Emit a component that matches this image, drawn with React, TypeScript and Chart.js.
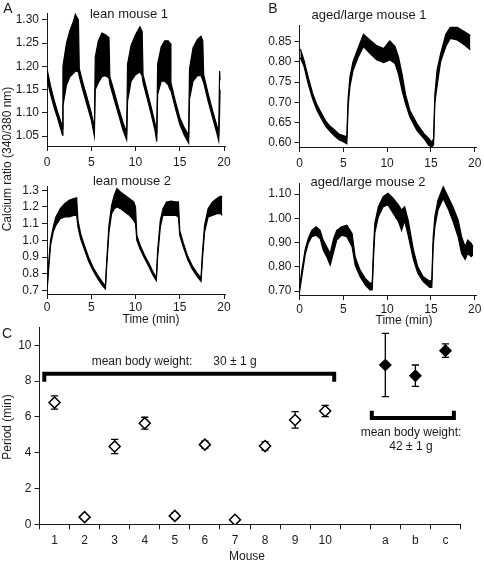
import React, { useEffect, useRef } from "react";
import { Chart, registerables } from "chart.js";

Chart.register(...registerables);

// ---------- Panel A: lean mouse 1 (envelope of the calcium trace) ----------
const leanMouse1Time = [0, 0.4, 0.8, 1.2, 1.6, 1.75, 1.8, 2.2, 2.6, 3.0, 3.2, 3.55, 3.65, 4.0, 4.5, 5.0, 5.35, 5.45, 5.8, 6.2, 6.6, 7.0, 7.1, 7.6, 8.1, 8.6, 9.0, 9.1, 9.5, 10.0, 10.5, 10.75, 10.85, 11.3, 11.8, 12.2, 12.4, 12.5, 12.9, 13.3, 13.7, 13.9, 14.0, 14.5, 15.0, 15.5, 16.0, 16.1, 16.5, 17.0, 17.4, 17.6, 17.7, 18.2, 18.7, 19.2, 19.4, 19.5, 19.55];
const leanMouse1Low = [1.172, 1.14, 1.112, 1.088, 1.062, 1.052, 1.115, 1.16, 1.178, 1.185, 1.19, 1.188, 1.178, 1.152, 1.118, 1.085, 1.05, 1.15, 1.165, 1.178, 1.18, 1.175, 1.162, 1.128, 1.095, 1.062, 1.042, 1.125, 1.168, 1.182, 1.188, 1.18, 1.165, 1.132, 1.095, 1.062, 1.038, 1.14, 1.168, 1.168, 1.16, 1.15, 1.148, 1.11, 1.075, 1.052, 1.035, 1.13, 1.168, 1.18, 1.18, 1.17, 1.165, 1.125, 1.09, 1.055, 1.04, 1.1, 1.15];
const leanMouse1High = [1.195, 1.158, 1.128, 1.102, 1.078, 1.066, 1.2, 1.25, 1.278, 1.298, 1.312, 1.3, 1.195, 1.168, 1.135, 1.1, 1.068, 1.22, 1.255, 1.272, 1.268, 1.262, 1.178, 1.145, 1.11, 1.078, 1.058, 1.205, 1.245, 1.268, 1.285, 1.275, 1.182, 1.148, 1.11, 1.078, 1.055, 1.205, 1.242, 1.255, 1.255, 1.25, 1.165, 1.125, 1.09, 1.068, 1.052, 1.195, 1.24, 1.258, 1.265, 1.255, 1.182, 1.142, 1.105, 1.072, 1.058, 1.19, 1.17];
const leanMouse1Ticks = [1.05, 1.1, 1.15, 1.2, 1.25, 1.3];

// ---------- Panel A: lean mouse 2 ----------
const leanMouse2Time = [0, 0.2, 0.4, 0.7, 1.0, 1.5, 2.0, 2.5, 3.0, 3.35, 3.5, 3.8, 4.2, 4.7, 5.2, 5.7, 6.2, 6.6, 6.75, 7.0, 7.3, 7.6, 7.9, 8.3, 8.8, 9.3, 9.8, 10.0, 10.15, 10.5, 11.0, 11.5, 12.0, 12.35, 12.5, 12.8, 13.1, 13.5, 14.0, 14.5, 14.85, 15.0, 15.4, 15.9, 16.4, 16.9, 17.4, 17.55, 17.8, 18.2, 18.7, 19.2, 19.6, 19.8];
const leanMouse2Low = [0.69, 0.84, 0.97, 1.05, 1.09, 1.13, 1.14, 1.14, 1.15, 1.15, 1.08, 1.01, 0.95, 0.875, 0.82, 0.775, 0.735, 0.71, 0.85, 1.05, 1.16, 1.19, 1.2, 1.19, 1.17, 1.15, 1.12, 1.1, 1.0, 0.95, 0.895, 0.845, 0.79, 0.76, 0.9, 1.08, 1.15, 1.15, 1.15, 1.15, 1.14, 1.03, 0.96, 0.885, 0.83, 0.79, 0.755, 0.88, 1.05, 1.14, 1.15, 1.16, 1.16, 1.15];
const leanMouse2High = [0.71, 0.87, 1.0, 1.08, 1.14, 1.19, 1.22, 1.24, 1.25, 1.255, 1.12, 1.04, 0.975, 0.9, 0.84, 0.795, 0.755, 0.728, 0.88, 1.09, 1.21, 1.27, 1.31, 1.29, 1.27, 1.25, 1.23, 1.2, 1.03, 0.975, 0.915, 0.865, 0.81, 0.778, 0.94, 1.12, 1.19, 1.23, 1.235, 1.23, 1.23, 1.06, 0.985, 0.905, 0.85, 0.81, 0.775, 0.92, 1.09, 1.19, 1.23, 1.25, 1.265, 1.26];
const leanMouse2Ticks = [0.7, 0.8, 0.9, 1.0, 1.1, 1.2, 1.3];

// ---------- Panel B: aged/large mouse 1 ----------
const agedMouse1Time = [0.1, 0.5, 1.0, 1.5, 2.0, 2.5, 3.0, 3.5, 4.0, 4.5, 5.0, 5.4, 5.55, 5.75, 6.1, 6.7, 7.3, 8.0, 8.8, 9.6, 10.3, 10.9, 11.3, 11.7, 12.1, 12.6, 13.4, 14.2, 14.75, 15.1, 15.3, 15.45, 15.7, 16.1, 16.7, 17.2, 18.0, 18.8, 19.5];
const agedMouse1Low = [0.81, 0.79, 0.745, 0.708, 0.68, 0.66, 0.641, 0.628, 0.617, 0.608, 0.603, 0.598, 0.69, 0.738, 0.778, 0.812, 0.838, 0.822, 0.805, 0.798, 0.805, 0.796, 0.77, 0.73, 0.697, 0.664, 0.631, 0.611, 0.594, 0.59, 0.595, 0.7, 0.74, 0.8, 0.838, 0.858, 0.854, 0.842, 0.83];
const agedMouse1High = [0.832, 0.805, 0.762, 0.722, 0.694, 0.673, 0.654, 0.641, 0.632, 0.622, 0.618, 0.615, 0.71, 0.762, 0.8, 0.835, 0.868, 0.855, 0.84, 0.833, 0.852, 0.838, 0.812, 0.77, 0.72, 0.68, 0.648, 0.623, 0.611, 0.602, 0.61, 0.72, 0.78, 0.82, 0.868, 0.885, 0.885, 0.875, 0.865];
const agedMouse1Ticks = [0.6, 0.65, 0.7, 0.75, 0.8, 0.85];

// ---------- Panel B: aged/large mouse 2 ----------
const agedMouse2Time = [0, 0.27, 0.65, 1.0, 1.4, 1.9, 2.35, 2.7, 3.1, 3.5, 3.9, 4.25, 4.8, 5.4, 6.0, 6.35, 6.9, 7.5, 8.05, 8.3, 8.45, 8.6, 9.0, 9.55, 10.1, 10.7, 11.3, 11.65, 12.0, 12.4, 13.0, 13.5, 14.1, 14.85, 15.1, 15.25, 15.45, 15.8, 16.4, 16.96, 17.5, 18.1, 18.5, 18.9, 19.2, 19.6, 19.8];
const agedMouse2Low = [0.695, 0.76, 0.85, 0.897, 0.924, 0.93, 0.917, 0.87, 0.842, 0.807, 0.862, 0.91, 0.93, 0.924, 0.883, 0.807, 0.76, 0.725, 0.704, 0.705, 0.84, 0.94, 1.007, 1.048, 1.055, 1.02, 0.986, 0.95, 0.99, 0.93, 0.83, 0.773, 0.74, 0.715, 0.715, 0.88, 0.965, 1.034, 1.082, 1.04, 0.99, 0.924, 0.855, 0.83, 0.855, 0.842, 0.85];
const agedMouse2High = [0.712, 0.785, 0.872, 0.917, 0.95, 0.965, 0.95, 0.91, 0.883, 0.855, 0.917, 0.95, 0.965, 0.972, 0.938, 0.842, 0.787, 0.752, 0.732, 0.735, 0.88, 0.98, 1.048, 1.089, 1.103, 1.082, 1.055, 1.034, 1.048, 0.993, 0.87, 0.8, 0.76, 0.74, 0.745, 0.92, 1.007, 1.075, 1.13, 1.089, 1.048, 0.993, 0.924, 0.883, 0.91, 0.897, 0.883];
const agedMouse2Ticks = [0.7, 0.8, 0.9, 1.0, 1.1];

const timeTicks = [0, 5, 10, 15, 20];

// ---------- Panel C: period per mouse ----------
const leanMice = ["1", "2", "3", "4", "5", "6", "7", "8", "9", "10"];
const leanPeriod = [6.8, 0.4, 4.35, 5.65, 0.47, 4.45, 0.25, 4.37, 5.83, 6.33];
const leanPeriodErr = [0.37, 0.1, 0.4, 0.33, 0.15, 0.19, 0.06, 0.23, 0.46, 0.31];
const agedMice = ["a", "b", "c"];
const agedPeriod = [8.9, 8.3, 9.7];
const agedPeriodErr = [1.77, 0.6, 0.38];
const mouseLabels = [...leanMice, "", ...agedMice];
const periodTicks = [0, 2, 4, 6, 8, 10];

// brackets (x in mouse-slot units, y in minutes)
const leanBracketX = [0.66, 0.66, 10.3, 10.3];
const leanBracketY = [7.97, 8.41, 8.41, 7.97];
const agedBracketX = [11.55, 11.55, 14.28, 14.28];
const agedBracketY = [6.35, 5.94, 5.94, 6.35];

// ---------- styling ----------
const FONT = '"Liberation Sans", Arial, Helvetica, sans-serif';
const INK = "#1a1a1a";
Chart.defaults.font.family = FONT;

type Box = {
  left: number; top: number; width: number; height: number;
  padTop: number; padRight: number; yWidth: number; xHeight: number; xPad: number;
};

function xAxisLinear(min: number, max: number, ticks: number[], xHeight: number, xPad: number) {
  return {
    type: "linear",
    min, max,
    afterBuildTicks: (s: any) => { s.ticks = ticks.map((v) => ({ value: v })); },
    afterFit: (s: any) => { s.height = xHeight; },
    ticks: { font: { family: FONT, size: 12 }, color: INK, padding: xPad, maxRotation: 0, autoSkip: false, callback: (v: any) => String(v) },
    grid: { drawOnChartArea: false, drawTicks: true, tickLength: 5, tickColor: INK, tickWidth: 1 },
    border: { display: true, color: INK, width: 1 },
  };
}

function yAxisLinear(min: number, max: number, ticks: number[], dec: number, yWidth: number) {
  return {
    type: "linear",
    min, max,
    afterBuildTicks: (s: any) => { s.ticks = ticks.map((v) => ({ value: v })); },
    afterFit: (s: any) => { s.width = yWidth; },
    ticks: { font: { family: FONT, size: 12 }, color: INK, padding: 3, autoSkip: false, callback: (v: any) => Number(v).toFixed(dec) },
    grid: { drawOnChartArea: false, drawTicks: true, tickLength: 5, tickColor: INK, tickWidth: 1 },
    border: { display: true, color: INK, width: 1 },
  };
}

function traceConfig(time: number[], low: number[], high: number[], yMin: number, yMax: number, yTicks: number[], dec: number, box: Box) {
  return {
    type: "line",
    data: {
      datasets: [
        { data: time.map((t, i) => ({ x: t, y: low[i] })), borderColor: "#000", borderWidth: 1.2, pointRadius: 0, fill: false, tension: 0 },
        { data: time.map((t, i) => ({ x: t, y: high[i] })), borderColor: "#000", borderWidth: 1.2, pointRadius: 0, fill: "-1", backgroundColor: "#000", tension: 0 },
      ],
    },
    options: {
      responsive: false, animation: false, devicePixelRatio: 1, events: [],
      layout: { padding: { top: box.padTop, right: box.padRight, left: 0, bottom: 0 } },
      plugins: { legend: { display: false }, tooltip: { enabled: false }, title: { display: false } },
      scales: {
        x: xAxisLinear(0, 20.2, timeTicks, box.xHeight, box.xPad),
        y: yAxisLinear(yMin, yMax, yTicks, dec, box.yWidth),
      },
    },
  };
}

function periodConfig(box: Box) {
  const slot = (name: string) => mouseLabels.indexOf(name) + 1;
  const cap = 0.12;
  const errSegs: any[] = [];
  const addErr = (x: number, m: number, e: number) => {
    errSegs.push({ x, y: m - e }, { x, y: m + e }, { x, y: null });
    errSegs.push({ x: x - cap, y: m + e }, { x: x + cap, y: m + e }, { x, y: null });
    errSegs.push({ x: x - cap, y: m - e }, { x: x + cap, y: m - e }, { x, y: null });
  };
  leanMice.forEach((n, i) => addErr(slot(n), leanPeriod[i], leanPeriodErr[i]));
  agedMice.forEach((n, i) => addErr(slot(n), agedPeriod[i], agedPeriodErr[i]));
  const marker = { pointStyle: "rectRot", pointRadius: 5.5, pointBorderColor: "#000", pointBorderWidth: 1.5, showLine: false, xAxisID: "xv" };
  const bracket = { showLine: true, pointRadius: 0, borderColor: "#000", borderWidth: 4, borderJoinStyle: "miter", borderCapStyle: "butt", fill: false, xAxisID: "xv" };
  return {
    type: "scatter",
    data: {
      labels: mouseLabels,
      datasets: [
        { ...marker, data: leanMice.map((n, i) => ({ x: slot(n), y: leanPeriod[i] })), pointBackgroundColor: "#fff" },
        { ...marker, data: agedMice.map((n, i) => ({ x: slot(n), y: agedPeriod[i] })), pointBackgroundColor: "#000" },
        { data: errSegs, showLine: true, spanGaps: false, pointRadius: 0, borderColor: "#000", borderWidth: 1.3, fill: false, xAxisID: "xv" },
        { ...bracket, data: leanBracketX.map((x, i) => ({ x, y: leanBracketY[i] })) },
        { ...bracket, data: agedBracketX.map((x, i) => ({ x, y: agedBracketY[i] })) },
      ],
    },
    options: {
      responsive: false, animation: false, devicePixelRatio: 1, events: [],
      layout: { padding: { top: box.padTop, right: box.padRight, left: 0, bottom: 0 } },
      plugins: { legend: { display: false }, tooltip: { enabled: false }, title: { display: false } },
      scales: {
        x: {
          type: "category",
          labels: mouseLabels,
          offset: true,
          afterFit: (s: any) => { s.height = box.xHeight; },
          ticks: { font: { family: FONT, size: 12 }, color: INK, padding: box.xPad, maxRotation: 0, autoSkip: false },
          grid: { offset: true, drawOnChartArea: false, drawTicks: true, tickLength: 5, tickColor: INK, tickWidth: 1 },
          border: { display: true, color: INK, width: 1 },
        },
        xv: { type: "linear", display: false, min: 0.5, max: 14.5, position: "bottom" },
        y: yAxisLinear(0, 11, periodTicks, 0, box.yWidth),
      },
    },
  };
}

function ChartCanvas({ box, make }: { box: Box; make: () => any }) {
  const ref = useRef<HTMLCanvasElement>(null);
  useEffect(() => {
    const chart = new Chart(ref.current as HTMLCanvasElement, make());
    return () => chart.destroy();
  }, []);
  return (
    <canvas
      ref={ref}
      width={box.width}
      height={box.height}
      style={{ position: "absolute", left: box.left, top: box.top, width: box.width, height: box.height }}
    />
  );
}

function Txt({ x, y, size = 12, rotate = false, children }: { x: number; y: number; size?: number; rotate?: boolean; children: React.ReactNode }) {
  return (
    <div
      style={{
        position: "absolute", left: x, top: y, whiteSpace: "nowrap",
        fontFamily: FONT, fontSize: size, lineHeight: 1, color: INK,
        transform: `translate(-50%, -50%)${rotate ? " rotate(-90deg)" : ""}`,
      }}
    >
      {children}
    </div>
  );
}

const boxA1: Box = { left: 0, top: 0, width: 240, height: 175, padTop: 13, padRight: 14.2, yWidth: 47, xHeight: 29, xPad: 4 };
const boxA2: Box = { left: 0, top: 176, width: 240, height: 147, padTop: 10, padRight: 14.2, yWidth: 47, xHeight: 29, xPad: 1 };
const boxB1: Box = { left: 250, top: 0, width: 244, height: 175, padTop: 25, padRight: 17.5, yWidth: 49.5, xHeight: 28, xPad: 4 };
const boxB2: Box = { left: 250, top: 173, width: 244, height: 150, padTop: 10, padRight: 17.5, yWidth: 49.5, xHeight: 28, xPad: 2 };
const boxC: Box = { left: 0, top: 317, width: 476, height: 247, padTop: 10.4, padRight: 15.5, yWidth: 39.5, xHeight: 39.7, xPad: 4 };

export default function App() {
  return (
    <div style={{ position: "absolute", left: 0, top: 0, width: 484, height: 564, overflow: "hidden", background: "#fff" }}>
      <ChartCanvas box={boxA1} make={() => traceConfig(leanMouse1Time, leanMouse1Low, leanMouse1High, 1.0285, 1.315, leanMouse1Ticks, 2, boxA1)} />
      <ChartCanvas box={boxA2} make={() => traceConfig(leanMouse2Time, leanMouse2Low, leanMouse2High, 0.68, 1.324, leanMouse2Ticks, 1, boxA2)} />
      <ChartCanvas box={boxB1} make={() => traceConfig(agedMouse1Time, agedMouse1Low, agedMouse1High, 0.59, 0.891, agedMouse1Ticks, 2, boxB1)} />
      <ChartCanvas box={boxB2} make={() => traceConfig(agedMouse2Time, agedMouse2Low, agedMouse2High, 0.6835, 1.145, agedMouse2Ticks, 2, boxB2)} />
      <ChartCanvas box={boxC} make={() => periodConfig(boxC)} />

      <Txt x={8} y={8} size={14}>A</Txt>
      <Txt x={273} y={8} size={14}>B</Txt>
      <Txt x={7} y={333} size={14}>C</Txt>

      <Txt x={129} y={13} size={13}>lean mouse 1</Txt>
      <Txt x={132} y={180} size={13}>lean mouse 2</Txt>
      <Txt x={369} y={14} size={13}>aged/large mouse 1</Txt>
      <Txt x={368} y={181} size={13}>aged/large mouse 2</Txt>

      <Txt x={151} y={319}>Time (min)</Txt>
      <Txt x={404} y={320}>Time (min)</Txt>
      <Txt x={7} y={159} rotate>Calcium ratio (340/380 nm)</Txt>
      <Txt x={7} y={427} rotate>Period (min)</Txt>
      <Txt x={247} y={556}>Mouse</Txt>

      <Txt x={142} y={361}>mean body weight:</Txt>
      <Txt x={235} y={361}>30 ± 1 g</Txt>
      <Txt x={411} y={432}>mean body weight:</Txt>
      <Txt x={411} y={446}>42 ± 1 g</Txt>
    </div>
  );
}
